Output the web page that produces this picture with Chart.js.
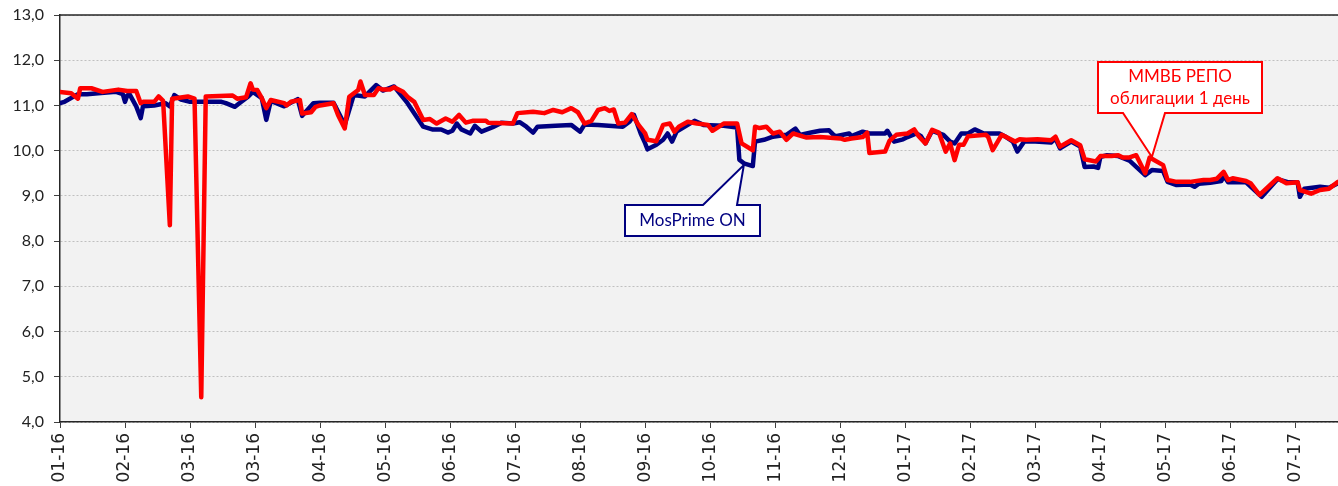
<!DOCTYPE html>
<html lang="ru">
<head>
    <meta charset="UTF-8">
    <title>MosPrime ON и РЕПО ММВБ</title>
    <script src="https://cdn.jsdelivr.net/npm/chart.js"></script>
    <style>
        html, body { margin: 0; padding: 0; background: #fff; }
        canvas { display: block; }
    </style>
</head>
<body>
    <canvas id="rates" width="1338" height="486"></canvas>

    <script>
        // x = days since 04.01.2016; Excel date axis with a 29-day step
        const tickStep = 29;
        const lastDay = 570;
        const xLabels = ['01-16', '02-16', '03-16', '03-16', '04-16', '05-16', '06-16', '07-16', '08-16', '09-16',
                         '10-16', '11-16', '12-16', '01-17', '02-17', '03-17', '04-17', '05-17', '06-17', '07-17'];

        // MosPrime ON
        const mosDays = [
            0, 2, 8, 12, 17, 25, 28, 29, 30, 31,
            34, 36, 37, 39, 42, 47, 49, 51, 54, 58,
            65, 72, 74, 78, 80, 84, 86, 90, 92, 94,
            100, 106, 108, 113, 116, 122, 127, 131, 136, 141,
            144, 149, 155, 162, 166, 170, 173, 175, 177, 179,
            183, 185, 188, 193, 197, 202, 205, 208, 211, 213,
            221, 228, 232, 234, 240, 251, 254, 256, 259, 261,
            262, 266, 269, 271, 273, 275, 280, 283, 287, 296,
            302, 303, 305, 309, 310, 314, 318, 324, 328, 330,
            335, 339, 343, 345, 346, 352, 353, 358, 361, 368,
            369, 372, 376, 378, 382, 384, 386, 389, 394, 397,
            399, 402, 405, 408, 412, 416, 419, 422, 425, 427,
            430, 435, 442, 444, 446, 451, 455, 457, 461, 463,
            464, 467, 472, 477, 484, 487, 492, 494, 498, 504,
            506, 508, 513, 518, 519, 521, 529, 536, 543, 548,
            552, 553, 555, 562, 566, 570
        ];
        const mosValues = [
            11.05, 11.08, 11.25, 11.25, 11.27, 11.3, 11.25, 11.08, 11.22, 11.25,
            10.98, 10.72, 10.98, 10.99, 11.0, 11.05, 10.98, 11.23, 11.13, 11.08,
            11.08, 11.08, 11.05, 10.97, 11.05, 11.2, 11.3, 11.16, 10.68, 11.1,
            10.98, 11.14, 10.77, 11.05, 11.06, 11.06, 10.57, 11.23, 11.2, 11.45,
            11.33, 11.42, 11.05, 10.53, 10.47, 10.47, 10.4, 10.44, 10.6, 10.47,
            10.38, 10.55, 10.42, 10.52, 10.62, 10.6, 10.63, 10.53, 10.4, 10.53,
            10.55, 10.57, 10.42, 10.58, 10.57, 10.53, 10.64, 10.79, 10.38, 10.16,
            10.03, 10.13, 10.24, 10.38, 10.2, 10.42, 10.57, 10.66, 10.57, 10.55,
            10.51, 9.8, 9.72, 9.66, 10.2, 10.24, 10.31, 10.35, 10.49, 10.35,
            10.4, 10.44, 10.45, 10.35, 10.32, 10.38, 10.32, 10.42, 10.38, 10.38,
            10.44, 10.2, 10.25, 10.3, 10.38, 10.32, 10.16, 10.44, 10.35, 10.2,
            10.16, 10.38, 10.38, 10.47, 10.38, 10.38, 10.38, 10.3, 10.2, 9.98,
            10.2, 10.2, 10.18, 10.27, 10.05, 10.2, 10.09, 9.64, 9.65, 9.62,
            9.86, 9.9, 9.88, 9.78, 9.46, 9.57, 9.55, 9.31, 9.24, 9.25,
            9.2, 9.27, 9.29, 9.33, 9.45, 9.3, 9.3, 8.98, 9.37, 9.3,
            9.3, 8.98, 9.16, 9.2, 9.18, 9.28
        ];

        // ММВБ РЕПО облигации 1 день
        const repoDays = [
            0, 5, 8, 9, 14, 19, 26, 30, 34, 36,
            37, 42, 44, 46, 49, 50, 57, 60, 63, 65,
            77, 79, 83, 85, 86, 88, 90, 92, 94, 100,
            101, 103, 107, 108, 112, 114, 116, 122, 124, 127,
            129, 133, 134, 136, 140, 142, 144, 147, 149, 153,
            155, 158, 162, 165, 168, 172, 175, 178, 181, 184,
            190, 191, 202, 204, 211, 216, 220, 224, 228, 231,
            234, 237, 240, 243, 245, 247, 249, 252, 255, 258,
            261, 262, 266, 269, 272, 274, 276, 280, 284, 289,
            291, 296, 302, 304, 309, 310, 312, 315, 318, 321,
            324, 327, 333, 339, 348, 350, 353, 358, 360, 361,
            368, 370, 373, 378, 381, 383, 386, 389, 392, 395,
            397, 399, 401, 403, 405, 413, 414, 416, 420, 426,
            428, 431, 436, 442, 444, 446, 451, 455, 457, 462,
            464, 469, 472, 474, 477, 480, 484, 486, 492, 494,
            498, 504, 510, 513, 516, 519, 521, 523, 529, 531,
            535, 543, 547, 552, 553, 558, 562, 566, 570
        ];
        const repoValues = [
            11.3, 11.27, 11.15, 11.38, 11.38, 11.3, 11.35, 11.32, 11.32, 11.05,
            11.08, 11.08, 11.2, 11.1, 8.35, 11.15, 11.2, 11.15, 4.55, 11.2,
            11.22, 11.15, 11.18, 11.49, 11.35, 11.34, 11.16, 10.94, 11.12, 11.05,
            11.0, 11.08, 11.12, 10.82, 10.85, 10.97, 11.0, 11.05, 10.79, 10.49,
            11.19, 11.34, 11.53, 11.23, 11.23, 11.38, 11.35, 11.35, 11.4, 11.3,
            11.19, 11.08, 10.68, 10.7, 10.6, 10.71, 10.64, 10.79, 10.62, 10.66,
            10.66, 10.62, 10.6, 10.83, 10.86, 10.83, 10.9, 10.85, 10.94, 10.85,
            10.6, 10.66, 10.9, 10.94, 10.88, 10.91, 10.6, 10.62, 10.81, 10.57,
            10.38, 10.24, 10.21, 10.57, 10.6, 10.42, 10.53, 10.64, 10.6, 10.57,
            10.44, 10.6, 10.6, 10.16, 10.01, 10.53, 10.5, 10.53, 10.38, 10.42,
            10.24, 10.38, 10.29, 10.3, 10.27, 10.24, 10.27, 10.3, 10.4, 9.95,
            9.98, 10.22, 10.35, 10.38, 10.47, 10.32, 10.16, 10.46, 10.4, 9.98,
            10.16, 9.79, 10.13, 10.13, 10.32, 10.35, 10.3, 10.01, 10.35, 10.2,
            10.25, 10.24, 10.25, 10.23, 10.31, 10.09, 10.23, 10.12, 9.81, 9.76,
            9.88, 9.88, 9.9, 9.85, 9.85, 9.9, 9.5, 9.85, 9.68, 9.35,
            9.31, 9.31, 9.35, 9.35, 9.38, 9.53, 9.35, 9.39, 9.33, 9.28,
            9.02, 9.39, 9.28, 9.3, 9.13, 9.05, 9.13, 9.16, 9.31
        ];

        const mosData = mosDays.map((d, i) => ({ x: d, y: mosValues[i] }));
        const repoData = repoDays.map((d, i) => ({ x: d, y: repoValues[i] }));

        const labelFont = '17px Lato, "Open Sans", sans-serif';

        // grey plot area + dark top frame line
        const plotFrame = {
            id: 'plotFrame',
            beforeDraw(chart) {
                const { ctx, chartArea: a } = chart;
                ctx.save();
                ctx.fillStyle = '#f2f2f2';
                ctx.fillRect(a.left, a.top, a.right - a.left, a.bottom - a.top);
                ctx.restore();
            },
            afterDatasetsDraw(chart) {
                const { ctx, chartArea: a } = chart;
                ctx.save();
                ctx.strokeStyle = '#262626';
                ctx.lineWidth = 1.5;
                ctx.beginPath();
                ctx.moveTo(a.left, a.top);
                ctx.lineTo(a.right, a.top);
                ctx.stroke();
                ctx.restore();
            }
        };

        // Excel-style callouts; the tip points at a (day, value) on the chart
        const notes = [
            { lines: ['MosPrime ON'], color: '#000080', box: [625, 205, 760, 236], side: 'top', base: [703, 737], tip: [305, 9.68] },
            { lines: ['ММВБ РЕПО', 'облигации 1 день'], color: '#ff0000', box: [1098, 62, 1262, 113], side: 'bottom', base: [1123, 1165], tip: [487, 9.86] }
        ];

        const callouts = {
            id: 'callouts',
            afterDatasetsDraw(chart) {
                const { ctx } = chart;
                const xs = chart.scales.x, ys = chart.scales.y;
                notes.forEach(n => {
                    const [l, t, r, b] = n.box;
                    const tx = xs.getPixelForValue(n.tip[0]);
                    const ty = ys.getPixelForValue(n.tip[1]);
                    ctx.save();
                    ctx.beginPath();
                    if (n.side === 'top') {
                        ctx.moveTo(l, t);
                        ctx.lineTo(n.base[0], t);
                        ctx.lineTo(tx, ty);
                        ctx.lineTo(n.base[1], t);
                        ctx.lineTo(r, t);
                        ctx.lineTo(r, b);
                        ctx.lineTo(l, b);
                    } else {
                        ctx.moveTo(l, t);
                        ctx.lineTo(r, t);
                        ctx.lineTo(r, b);
                        ctx.lineTo(n.base[1], b);
                        ctx.lineTo(tx, ty);
                        ctx.lineTo(n.base[0], b);
                        ctx.lineTo(l, b);
                    }
                    ctx.closePath();
                    ctx.fillStyle = '#fff';
                    ctx.fill();
                    ctx.lineWidth = 2;
                    ctx.strokeStyle = n.color;
                    ctx.stroke();

                    ctx.fillStyle = n.color;
                    ctx.font = labelFont;
                    ctx.textAlign = 'center';
                    ctx.textBaseline = 'middle';
                    const cx = (l + r) / 2, cy = (t + b) / 2, lh = 22;
                    n.lines.forEach((s, i) => {
                        ctx.fillText(s, cx, cy + (i - (n.lines.length - 1) / 2) * lh);
                    });
                    ctx.restore();
                });
            }
        };

        const ctx = document.getElementById('rates').getContext('2d');
        const ratesChart = new Chart(ctx, {
            type: 'line',
            data: {
                datasets: [{
                    label: 'ММВБ РЕПО облигации 1 день',
                    data: repoData,
                    borderColor: '#ff0000',
                    borderWidth: 4.5,
                    borderJoinStyle: 'round',
                    borderCapStyle: 'round',
                    pointRadius: 0,
                    tension: 0,
                    order: 0
                }, {
                    label: 'MosPrime ON',
                    data: mosData,
                    borderColor: '#000080',
                    borderWidth: 4.5,
                    borderJoinStyle: 'round',
                    borderCapStyle: 'round',
                    pointRadius: 0,
                    tension: 0,
                    order: 1
                }]
            },
            options: {
                responsive: false,
                animation: false,
                layout: { padding: { top: 15, left: 0, right: 0, bottom: 0 } },
                plugins: {
                    legend: { display: false },
                    tooltip: { enabled: false }
                },
                scales: {
                    x: {
                        type: 'linear',
                        min: 0,
                        max: lastDay,
                        afterBuildTicks: s => { s.ticks = xLabels.map((_, i) => ({ value: i * tickStep })); },
                        afterFit: s => { s.height = 64; },
                        grid: { drawOnChartArea: false, tickLength: 6, tickColor: '#404040' },
                        border: { color: '#262626', width: 1.5 },
                        ticks: {
                            autoSkip: false,
                            minRotation: 90,
                            maxRotation: 90,
                            padding: 5,
                            color: '#222',
                            font: { family: 'DejaVu Sans', size: 17 },
                            callback: (v, i) => xLabels[i]
                        }
                    },
                    y: {
                        min: 4,
                        max: 13,
                        afterFit: s => { s.width = 60; s.paddingTop = 0; s.paddingBottom = 0; },
                        grid: { color: '#c0c0c0', tickColor: '#404040', tickLength: 6, tickBorderDash: [] },
                        border: { color: '#262626', width: 1.5, dash: [2, 2] },
                        ticks: {
                            stepSize: 1,
                            padding: 10,
                            color: '#222',
                            font: { family: 'Lato', size: 16 },
                            callback: v => v.toFixed(1).replace('.', ',')
                        }
                    }
                }
            },
            plugins: [plotFrame, callouts]
        });
    </script>
</body>
</html>
